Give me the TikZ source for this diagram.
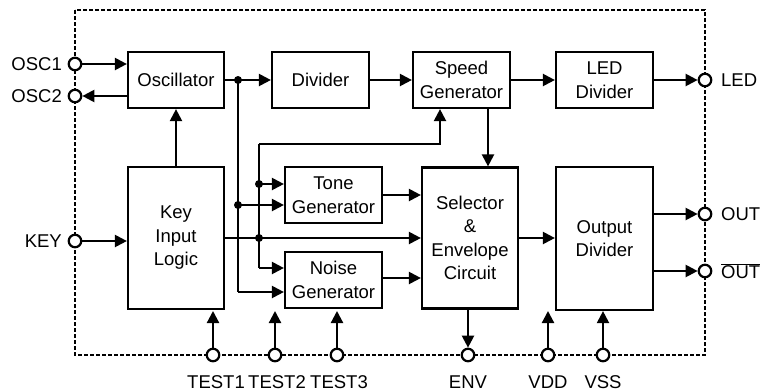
\documentclass[tikz,border=0pt]{standalone}
\usepackage{fontspec}
\setmainfont{Liberation Sans}
\usetikzlibrary{arrows.meta}
\begin{document}
\begin{tikzpicture}[x=1pt,y=-1pt,
  every node/.style={font=\fontsize{18.5}{23.5}\selectfont},
  blk/.style={draw,line width=2.2pt,minimum width=96pt,inner sep=0pt,align=center},
  pin/.style={circle,draw,fill=white,line width=2.2pt,minimum size=12.5pt,inner sep=0pt},
  jdot/.style={circle,fill,inner sep=0pt,minimum size=8pt},
  wire/.style={line width=2.2pt},
  arr/.style={wire,-{Triangle[length=12pt,width=12pt]}},
  lbl/.style={inner sep=0pt}]
\useasboundingbox (0,0) rectangle (762,391);
% package border
\draw[line width=1.5pt,dash pattern=on 4pt off 2pt] (75,10) rectangle (705,355);

% blocks
\node[blk,minimum height=56pt] (osc) at (176,80) {Oscillator};
\node[blk,minimum height=56pt,minimum width=97pt] (div) at (320.5,80) {Divider};
\node[blk,minimum height=56pt,minimum width=97pt] (spd) at (461.5,80) {Speed\\Generator};
\node[blk,minimum height=56pt,minimum width=97pt] (led) at (604.5,80) {LED\\Divider};
\node[blk,minimum height=142pt] (key) at (176,238) {Key\\Input\\Logic};
\node[blk,minimum height=56pt,minimum width=97pt] (tone) at (333.5,195) {Tone\\Generator};
\node[blk,minimum height=56pt,minimum width=97pt] (noise) at (333.5,280) {Noise\\Generator};
\node[blk,minimum height=141pt] (sel) at (470,238) {Selector\\\&\\Envelope\\Circuit};
\node[blk,minimum height=143pt,minimum width=97pt] (outd) at (604.5,238.5) {Output\\Divider};

% junction coordinates
\coordinate (j1) at (238,80);
\coordinate (j1b) at (238,205);
\coordinate (j1end) at (238,292);
\coordinate (b2top) at (259,144);
\coordinate (j2a) at (259,184);
\coordinate (j2b) at (259,238);
\coordinate (j2end) at (259,268);
\coordinate (fbx) at (440,144);
\coordinate (spdout) at (488,108);
\coordinate (t1e) at (213,311);
\coordinate (t2e) at (275,311);
\coordinate (t3e) at (337,311);
\coordinate (vdde) at (548,311);

% wires
\draw[arr] (osc.east) -- (div.west);
\draw[arr] (div.east) -- (spd.west);
\draw[arr] (spd.east) -- (led.west);
\draw[arr] (key.north) -- (osc.south);
\draw[arr] (spdout) -- (spdout |- sel.north);
\draw[wire] (j1) -- (j1end);
\draw[arr] (j1end) -- (j1end -| noise.west);
\draw[arr] (j1b) -- (j1b -| tone.west);
\draw[wire] (b2top) -- (j2end);
\draw[arr] (b2top) -- (fbx) -- (fbx |- spd.south);
\draw[arr] (j2end) -- (j2end -| noise.west);
\draw[arr] (j2a) -- (j2a -| tone.west);
\draw[arr] (key.east) -- (key.east -| sel.west);
\draw[arr] (tone.east) -- (tone.east -| sel.west);
\draw[arr] (noise.east |- 0,278) -- (sel.west |- 0,278);
\draw[arr] (sel.east) -- (sel.east -| outd.west);

\node[jdot] at (j1) {};
\node[jdot] at (j1b) {};
\node[jdot] at (j2a) {};
\node[jdot] at (j2b) {};

% pins
\node[pin] (osc1) at (75,64) {};
\node[pin] (osc2) at (75,96) {};
\node[pin] (keyp) at (75,241) {};
\node[pin] (ledp) at (705,80) {};
\node[pin] (outp) at (705,214) {};
\node[pin] (outbp) at (705,271) {};
\node[pin] (t1) at (213,355) {};
\node[pin] (t2) at (275,355) {};
\node[pin] (t3) at (337,355) {};
\node[pin] (env) at (468,355) {};
\node[pin] (vdd) at (548,355) {};
\node[pin] (vss) at (603,355) {};

\draw[arr] (osc1.east) -- (osc1 -| osc.west);
\draw[arr] (osc2 -| osc.west) -- (osc2.east);
\draw[arr] (keyp.east) -- (keyp -| key.west);
\draw[arr] (led.east) -- (ledp.west);
\draw[arr] (outp -| outd.east) -- (outp.west);
\draw[arr] (outbp -| outd.east) -- (outbp.west);
\draw[arr] (env |- sel.south) -- (env.north);
\draw[arr] (vdd.north) -- (vdde);
\draw[arr] (vss.north) -- (vss |- outd.south);
\draw[arr] (t1.north) -- (t1e);
\draw[arr] (t2.north) -- (t2e);
\draw[arr] (t3.north) -- (t3e);

% pin labels
\node[lbl,anchor=east] at (62,64) {OSC1};
\node[lbl,anchor=east] at (62,96) {OSC2};
\node[lbl,anchor=east] at (62,241) {KEY};
\node[lbl,anchor=west] at (721,80) {LED};
\node[lbl,anchor=west] at (721,214) {OUT};
\node[lbl,anchor=west] at (721,271) {$\overline{\mbox{OUT}}$};
\node[lbl,anchor=base] at (216,388) {TEST1};
\node[lbl,anchor=base] at (277,388) {TEST2};
\node[lbl,anchor=base] at (339,388) {TEST3};
\node[lbl,anchor=base] at (468,388) {ENV};
\node[lbl,anchor=base] at (548,388) {VDD};
\node[lbl,anchor=base] at (603,388) {VSS};
\end{tikzpicture}
\end{document}
